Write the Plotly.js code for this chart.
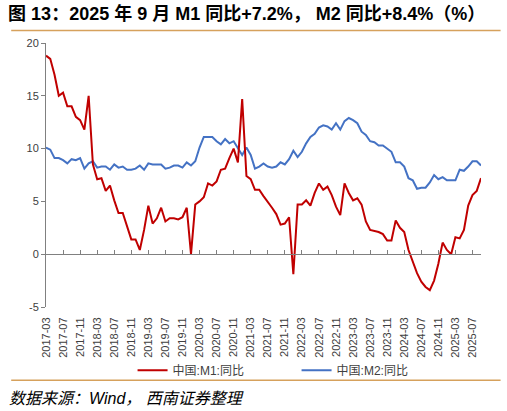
<!DOCTYPE html>
<html>
<head>
<meta charset="utf-8">
<script src="https://cdn.plot.ly/plotly-3.0.1.min.js"></script>
<style>
  body { margin: 0; background: #fff; }
  #chart { width: 507px; height: 411px; }
</style>
</head>
<body>
<div id="chart"></div>
<script>
// 月份：2017-03 ~ 2025-09
var startYear = 2017, startMonth = 3, nMonths = 103;
var months = [];
for (var i = 0; i < nMonths; i++) {
  var m = startMonth - 1 + i;
  var y = startYear + Math.floor(m / 12);
  var mm = (m % 12) + 1;
  months.push(y + '-' + (mm < 10 ? '0' + mm : mm));
}

var tickLabels = ['2017-03','2017-07','2017-11','2018-03','2018-07','2018-11',
  '2019-03','2019-07','2019-11','2020-03','2020-07','2020-11',
  '2021-03','2021-07','2021-11','2022-03','2022-07','2022-11',
  '2023-03','2023-07','2023-11','2024-03','2024-07','2024-11',
  '2025-03','2025-07'];

// 中国:M1:同比
var m1 = [18.8,18.5,17.0,15.0,15.3,14.0,14.0,13.0,12.7,11.8,
  15.0,8.5,7.1,7.2,6.0,6.5,5.1,3.9,3.9,2.7,
  1.4,1.4,0.4,2.3,4.6,2.9,3.4,4.4,3.1,3.4,
  3.4,3.3,3.5,4.4,0.0,4.7,5.0,5.4,6.7,6.5,
  6.9,8.0,8.1,9.1,10.0,8.7,14.7,7.4,7.1,6.1,
  6.1,5.5,5.0,4.4,3.8,2.8,2.9,3.5,-1.9,4.7,
  4.7,5.1,4.6,5.8,6.7,6.1,6.4,5.6,4.5,3.7,
  6.7,5.8,5.1,5.3,4.7,3.1,2.3,2.2,2.1,1.9,
  1.3,1.3,3.2,2.5,2.1,0.4,-0.8,-1.8,-2.6,-3.1,
  -3.4,-2.5,-0.9,1.1,0.4,0.0,1.6,1.5,2.3,4.6,
  5.6,6.0,7.2];

// 中国:M2:同比
var m2 = [10.1,9.9,9.1,9.1,8.9,8.6,9.0,8.9,9.1,8.1,
  8.6,8.8,8.2,8.3,8.3,8.0,8.5,8.2,8.3,8.0,
  8.0,8.1,8.4,8.0,8.6,8.5,8.5,8.5,8.1,8.2,
  8.4,8.4,8.2,8.7,8.4,8.8,10.1,11.1,11.1,11.1,
  10.7,10.4,10.9,10.5,10.7,10.1,9.4,10.1,9.4,8.1,
  8.3,8.6,8.3,8.2,8.3,8.7,8.5,9.0,9.8,9.2,
  9.7,10.5,11.1,11.4,12.0,12.2,12.1,11.8,12.4,11.8,
  12.6,12.9,12.7,12.4,11.6,11.3,10.7,10.6,10.3,10.3,
  10.0,9.7,8.7,8.7,8.3,7.2,7.0,6.2,6.3,6.3,
  6.8,7.5,7.1,7.3,7.0,7.0,7.0,8.0,7.9,8.3,
  8.8,8.8,8.4];

var yTicks = [-5, 0, 5, 10, 15, 20];
var yTickText = ['-5', '0', '5', '10', '15', '20'];

var font = '"Liberation Sans", Arial, "Noto Sans CJK SC", sans-serif';
var cjk = '"Liberation Sans", "Noto Sans CJK SC", sans-serif';

var data = [
  {
    x: months, y: m1, name: '中国:M1:同比', type: 'scatter', mode: 'lines',
    xaxis: 'x2',
    line: {color: '#C00000', width: 2}
  },
  {
    x: months, y: m2, name: '中国:M2:同比', type: 'scatter', mode: 'lines',
    line: {color: '#4472C4', width: 2}
  }
];

var zeroPos = (0 - (-5)) / (20 - (-5));

var layout = {
  width: 507, height: 411,
  margin: {l: 46, r: 26, t: 43, b: 104},
  paper_bgcolor: '#fff', plot_bgcolor: '#fff',
  font: {family: cjk, color: '#404040', size: 11},
  showlegend: true,
  title: {
    text: '<b>图 13：2025 年 9 月 M1 同比+7.2%， M2 同比+8.4%（%）</b>',
    x: 0.016, xanchor: 'left', xref: 'container',
    y: 0.966, yanchor: 'middle', yref: 'container',
    font: {family: cjk, size: 18, color: '#000'}
  },
  xaxis: {
    type: 'category', range: [0, nMonths - 1],
    tickvals: tickLabels, ticktext: tickLabels,
    tickangle: -90, ticks: 'outside', ticklen: 5, tickcolor: 'rgba(0,0,0,0)',
    showline: false, showgrid: false, zeroline: false,
    tickfont: {family: font, size: 11, color: '#404040'},
    fixedrange: true
  },
  xaxis2: {
    type: 'category', range: [0, nMonths - 1],
    overlaying: 'x', anchor: 'free', position: zeroPos, side: 'bottom',
    tickvals: tickLabels, showticklabels: false,
    ticks: 'inside', ticklen: 4, tickcolor: '#808080', tickwidth: 1,
    showline: true, linecolor: '#808080', linewidth: 1,
    showgrid: false, zeroline: false
  },
  yaxis: {
    range: [-5, 20], tickvals: yTicks, ticktext: yTickText,
    ticks: 'outside', ticklen: 4, tickcolor: '#808080',
    showline: true, linecolor: '#808080', linewidth: 1,
    showgrid: false, zeroline: false,
    tickfont: {family: font, size: 11, color: '#404040'}
  },
  legend: {
    orientation: 'h', x: 0.576, xanchor: 'center', y: -0.24, yanchor: 'middle',
    entrywidth: 119, entrywidthmode: 'pixels', bgcolor: 'rgba(0,0,0,0)',
    font: {family: cjk, size: 12, color: '#404040'}
  },
  shapes: [
    {type: 'line', xref: 'paper', yref: 'paper', x0: -0.08, x1: 1.045,
     y0: 1.047, y1: 1.047, line: {color: '#D6A15C', width: 1.5}},
    {type: 'line', xref: 'paper', yref: 'paper', x0: -0.08, x1: 1.045,
     y0: -0.277, y1: -0.277, line: {color: '#D6A15C', width: 1.5}}
  ],
  annotations: [
    {text: '<i>数据来源：Wind， 西南证券整理</i>', xref: 'paper', yref: 'paper',
     x: -0.09, xanchor: 'left', y: -0.345, yanchor: 'middle', showarrow: false,
     font: {family: cjk, size: 16, color: '#000'}}
  ]
};

Plotly.newPlot('chart', data, layout, {displayModeBar: false, staticPlot: true});
</script>
</body>
</html>
